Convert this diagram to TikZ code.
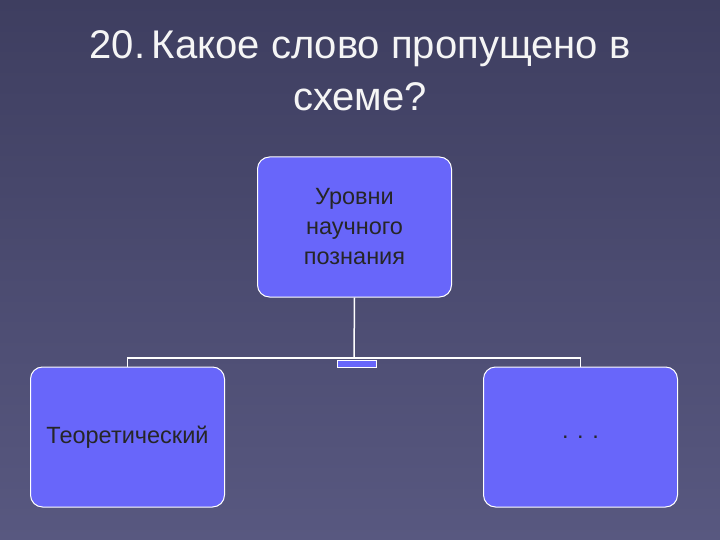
\documentclass[tikz,border=0pt]{standalone}
\usepackage{fontspec}
\setmainfont{Liberation Sans}
\begin{document}
\begin{tikzpicture}[x=1pt,y=-1pt,
  box/.style={draw=white,line width=1pt,fill=boxblue,rounded corners=12pt,minimum width=194pt,minimum height=140pt,font=\fontsize{23.5}{30}\selectfont,align=center,inner sep=0pt,text=black!85},
  conn/.style={draw=white,line width=1.5pt}]
\definecolor{boxblue}{RGB}{104,102,250}
\definecolor{bgtop}{RGB}{62,62,96}
\definecolor{bgbot}{RGB}{88,88,128}
\shade[top color=bgtop,bottom color=bgbot] (0,0) rectangle (720,540);
\useasboundingbox (0,0) rectangle (720,540);
\node[white!92!gray,font=\fontsize{40}{52}\selectfont,align=center] (title) at (360,71) {20.\kern-0.2em{} Какое слово пропущено в\\схеме?};
\node[box] (top) at (354.5,227) {Уровни\\научного\\познания};
\node[box] (left) at (127.5,437) {Теоретический};
\node[box] (right) at (580.5,437) {. . .};
\coordinate (j) at (354,358);
\draw[conn] (top.south) -- (j);
\draw[conn] (left.north) |- (j) -| (right.north);
\node[draw=white,fill=boxblue,minimum width=39pt,minimum height=7pt,inner sep=0pt] (mark) at (357,363.5) {};
\end{tikzpicture}
\end{document}
